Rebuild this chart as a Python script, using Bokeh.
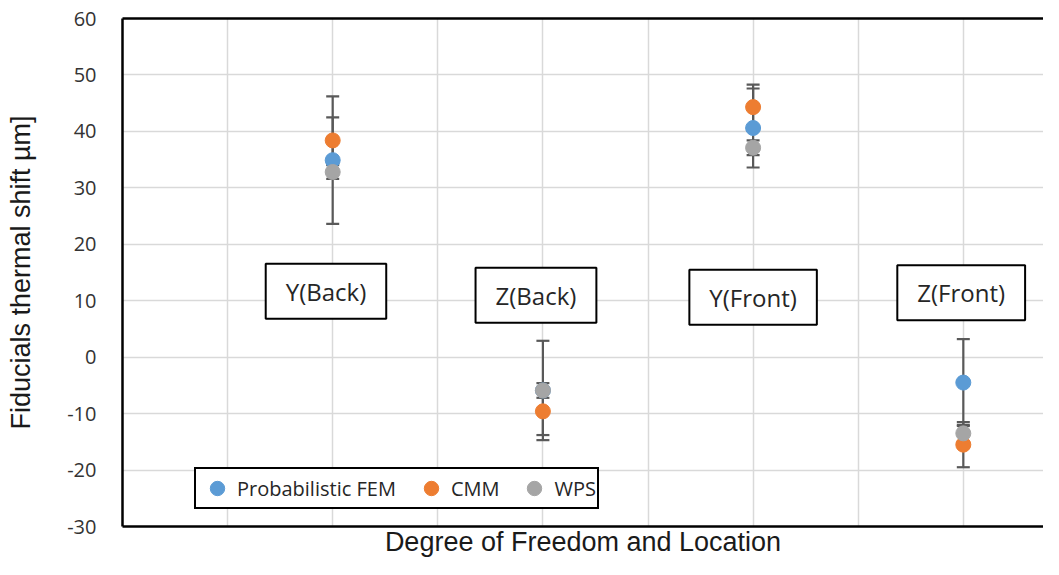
from bokeh.plotting import figure
from bokeh.models import (ColumnDataSource, Whisker, TeeHead, Label, Legend, LegendItem,
                          LinearAxis, FixedTicker, Range1d, CustomJSTickFormatter)
from bokeh.embed import file_html
from bokeh.resources import INLINE

# ---- data ----
categories = ["Y(Back)", "Z(Back)", "Y(Front)", "Z(Front)"]
cat_x = [2, 4, 6, 8]
fem = [34.9, -5.9, 40.6, -4.5]
fem_err = [11.3, 8.8, 7.0, 7.7]
cmm = [38.4, -9.6, 44.3, -15.5]
cmm_err = [4.1, 4.2, 4.0, 4.0]
wps = [32.8, -5.9, 37.1, -13.5]
wps_err = [1.2, 1.3, 1.3, 1.5]
y_ticks = [-30, -20, -10, 0, 10, 20, 30, 40, 50, 60]

series = [
    ("Probabilistic FEM", fem, fem_err, "#5B9BD5"),
    ("CMM", cmm, cmm_err, "#ED7D31"),
    ("WPS", wps, wps_err, "#A5A5A5"),
]

p = figure(width=1043, height=559, output_backend="svg", toolbar_location=None,
           x_range=Range1d(0, 8.763), y_range=Range1d(-30, 60),
           min_border_left=122, min_border_right=0, min_border_top=18, min_border_bottom=33)
p.outline_line_color = None
p.background_fill_color = "white"

# grid
p.xgrid.ticker = FixedTicker(ticks=[1, 2, 3, 4, 5, 6, 7, 8])
p.ygrid.ticker = FixedTicker(ticks=y_ticks)
p.xgrid.grid_line_color = "#D9D9D9"
p.ygrid.grid_line_color = "#D9D9D9"
p.xgrid.grid_line_width = 1.5
p.ygrid.grid_line_width = 1.5

# y axis
ya = p.yaxis[0]
ya.ticker = FixedTicker(ticks=y_ticks)
ya.formatter = CustomJSTickFormatter(code="return tick.toFixed(0);")
ya.axis_line_color = "black"
ya.axis_line_width = 2.5
ya.major_tick_line_color = None
ya.minor_tick_line_color = None
ya.major_label_text_font = "Open Sans"
ya.major_label_text_font_size = "20px"
ya.major_label_text_color = "#333333"
ya.major_label_standoff = 20
ya.axis_label = "Fiducials thermal shift µm]"
ya.axis_label_text_font = "Liberation Sans"
ya.axis_label_text_font_style = "normal"
ya.axis_label_text_font_size = "27px"
ya.axis_label_text_color = "#1a1a1a"
ya.axis_label_standoff = 28

# x axis
xa = p.xaxis[0]
xa.ticker = FixedTicker(ticks=[])
xa.axis_line_color = "black"
xa.axis_line_width = 2.5
xa.major_tick_line_color = None
xa.minor_tick_line_color = None
xa.major_label_text_font_size = "0px"
xa.major_label_standoff = 0
xa.axis_label = "Degree of Freedom and Location"
xa.axis_label_text_font = "Liberation Sans"
xa.axis_label_text_font_style = "normal"
xa.axis_label_text_font_size = "27px"
xa.axis_label_text_color = "#1a1a1a"
xa.axis_label_standoff = 0

top = LinearAxis(ticker=FixedTicker(ticks=[]), axis_line_color="black", axis_line_width=2.5,
                 major_tick_line_color=None, minor_tick_line_color=None,
                 major_label_text_font_size="0px")
p.add_layout(top, "above")

# error bars
for name, vals, errs, col in series:
    src = ColumnDataSource(dict(x=cat_x, y=vals,
                                lo=[v - e for v, e in zip(vals, errs)],
                                hi=[v + e for v, e in zip(vals, errs)]))
    w = Whisker(source=src, base="x", lower="lo", upper="hi", dimension="height",
                line_color="#595959", line_width=2.2,
                upper_head=TeeHead(size=13, line_color="#595959", line_width=2.2),
                lower_head=TeeHead(size=13, line_color="#595959", line_width=2.2))
    p.add_layout(w)

items = []
for name, vals, errs, col in series:
    src = ColumnDataSource(dict(x=cat_x, y=vals))
    r = p.scatter("x", "y", source=src, size=15, fill_color=col, line_color=col)
    items.append(LegendItem(label=name, renderers=[r]))

legend = Legend(items=items, orientation="horizontal", location=(72, 17),
                label_text_font="Open Sans", label_text_font_size="20px",
                label_text_color="#262626",
                border_line_color="black", border_line_width=2, border_line_alpha=1,
                background_fill_color="white", background_fill_alpha=1,
                padding=1, spacing=15, glyph_width=40, glyph_height=36, label_standoff=0,
                margin=0)
p.add_layout(legend, "center")

# category boxes
box_pos = [(1.936, 11.7), (3.934, 10.95), (6.0, 10.6), (7.98, 11.4)]
for (bx, by), txt in zip(box_pos, categories):
    lab = Label(x=bx, y=by, text=txt, text_align="center", text_baseline="middle",
                text_font="Open Sans", text_font_size="24px", text_color="#262626",
                border_line_color="black", border_line_width=2,
                background_fill_color="white", background_fill_alpha=1,
                padding=(20, 11))
    p.add_layout(lab)

open("out.html", "w").write(file_html(p, INLINE))
